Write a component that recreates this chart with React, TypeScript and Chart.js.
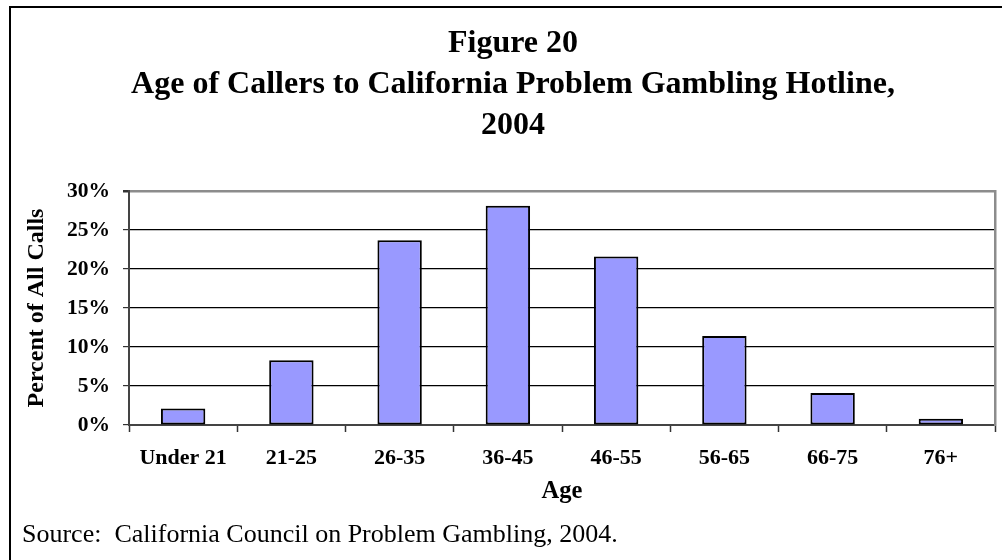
import React, { useEffect, useRef } from 'react';
import { Chart, registerables } from 'chart.js';

Chart.register(...registerables);

const categories = ['Under 21', '21-25', '26-35', '36-45', '46-55', '56-65', '66-75', '76+'];
const percentOfCalls = [2.1, 8.3, 23.7, 28.1, 21.6, 11.4, 4.1, 0.8];
const yTicks = [0, 5, 10, 15, 20, 25, 30];
const titleLines = ['Figure 20', 'Age of Callers to California Problem Gambling Hotline,', '2004'];
const xAxisTitle = 'Age';
const yAxisTitle = 'Percent of All Calls';
const sourceNote = 'Source:  California Council on Problem Gambling, 2004.';

const SERIF = "'Times New Roman', 'Liberation Serif', serif";
const BAR_FILL = '#9999FF';
const FRAME_GRAY = '#8c8c8c';

export default function App() {
  const canvasRef = useRef<HTMLCanvasElement | null>(null);

  useEffect(() => {
    const canvas = canvasRef.current;
    if (!canvas) return;
    const chart = new Chart(canvas, {
      type: 'bar',
      data: {
        labels: categories,
        datasets: [
          {
            label: yAxisTitle,
            data: percentOfCalls,
            backgroundColor: BAR_FILL,
            borderColor: '#000000',
            borderWidth: 2,
            borderSkipped: false,
            barPercentage: 0.41,
            categoryPercentage: 1,
          },
        ],
      },
      options: {
        responsive: false,
        animation: false,
        devicePixelRatio: 1,
        layout: { padding: { left: 22, right: 0, top: 0, bottom: 9.2 } },
        plugins: {
          legend: { display: false },
          tooltip: { enabled: false },
          title: {
            display: true,
            text: titleLines,
            color: '#000',
            font: { family: SERIF, size: 32, weight: 'bold', lineHeight: 41 / 32 },
            padding: { top: 23.5, bottom: 44.5 },
          },
          subtitle: {
            display: true,
            position: 'bottom',
            align: 'start',
            text: sourceNote,
            color: '#000',
            font: { family: SERIF, size: 26, weight: 'normal', lineHeight: 1.2 },
            padding: { top: 13.2, bottom: 0 },
          },
        },
        scales: {
          x: {
            type: 'category',
            offset: true,
            grid: {
              offset: true,
              drawOnChartArea: false,
              drawTicks: true,
              tickLength: 7,
              tickColor: '#333',
              tickWidth: 1.5,
            },
            border: { display: true, color: '#444', width: 2 },
            ticks: {
              color: '#000',
              padding: 13.5,
              maxRotation: 0,
              autoSkip: false,
              font: { family: SERIF, size: 22, weight: 'bold', lineHeight: 1.2 },
            },
            title: {
              display: true,
              text: xAxisTitle,
              color: '#000',
              font: { family: SERIF, size: 24.5, weight: 'bold', lineHeight: 1.2 },
              padding: { top: 0, bottom: 0 },
            },
            afterFit: (s: any) => {
              s.height = 81.4;
            },
          },
          y: {
            type: 'linear',
            position: 'left',
            min: 0,
            max: 30,
            afterBuildTicks: (s: any) => {
              s.ticks = yTicks.map((v) => ({ value: v }));
            },
            grid: {
              drawTicks: true,
              tickLength: 6,
              tickColor: '#333',
              color: (ctx: any) => (ctx.tick && ctx.tick.value === 30 ? FRAME_GRAY : '#000'),
              lineWidth: (ctx: any) => (ctx.tick && ctx.tick.value === 30 ? 2.5 : 1.2),
            },
            border: { display: true, color: '#444', width: 2 },
            ticks: {
              color: '#000',
              padding: 13,
              font: { family: SERIF, size: 21.5, weight: 'bold', lineHeight: 1.2 },
              callback: (v: any) => `${v}%`,
            },
            title: {
              display: true,
              text: yAxisTitle,
              color: '#000',
              font: { family: SERIF, size: 24, weight: 'bold', lineHeight: 1.2 },
              padding: { top: 0, bottom: 0 },
            },
            afterFit: (s: any) => {
              s.width = 107;
            },
          },
          y2: {
            type: 'linear',
            position: 'right',
            display: true,
            grid: { display: false, drawTicks: false },
            ticks: { display: false },
            border: { display: true, color: FRAME_GRAY, width: 2.5 },
            title: { display: false },
            afterFit: (s: any) => {
              s.width = 9;
            },
          },
        },
      },
    });
    return () => {
      chart.destroy();
    };
  }, []);

  return (
    <div
      style={{
        position: 'fixed',
        left: 0,
        top: 0,
        width: 1002,
        height: 560,
        overflow: 'hidden',
        background: '#fff',
      }}
    >
      <canvas
        ref={canvasRef}
        width={1004}
        height={560}
        style={{ position: 'absolute', left: 0, top: 0, width: 1004, height: 560 }}
      />
      <div
        style={{
          position: 'absolute',
          left: 9,
          top: 6,
          width: 1010,
          height: 570,
          border: '2px solid #000',
          boxSizing: 'border-box',
          pointerEvents: 'none',
        }}
      />
    </div>
  );
}
